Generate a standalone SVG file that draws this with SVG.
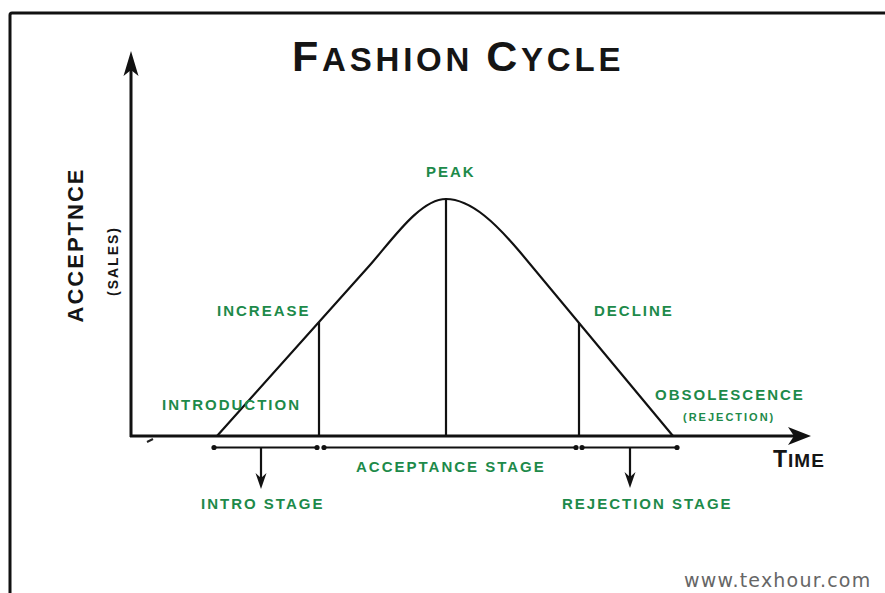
<svg xmlns="http://www.w3.org/2000/svg" width="885" height="593" viewBox="0 0 885 593">
<style>
.lbl{font-family:"Liberation Sans",Arial,sans-serif;font-weight:bold;fill:#1d8a4a;font-size:15px;letter-spacing:2px}
.small{font-size:11px;letter-spacing:2px}
.blk{font-family:"Liberation Sans",Arial,sans-serif;font-weight:bold;fill:#151515}
.ax{stroke:#111;stroke-width:3;fill:none}
.ln{stroke:#111;stroke-width:2.2;fill:none}
.ah{fill:#111}
</style>
<rect x="0" y="0" width="885" height="593" fill="#fff"/>
<rect x="10" y="13" width="900" height="620" rx="2" fill="none" stroke="#111" stroke-width="3"/>

<g id="title">
<text class="blk" x="292" y="71" letter-spacing="3.8"><tspan font-size="43">F</tspan><tspan font-size="33">ASHION </tspan><tspan font-size="43">C</tspan><tspan font-size="33">YCLE</tspan></text>
</g>

<g id="axes">
<line class="ax" x1="131" y1="66" x2="131" y2="437"/>
<path class="ah" d="M131,51 L138.5,76 L131,70 L123.5,76 Z"/>
<line class="ax" x1="130" y1="436" x2="796" y2="436"/>
<path class="ah" d="M811,436 L788,427 L794,436 L788,445 Z"/>
<line stroke="#222" stroke-width="2" x1="147" y1="442" x2="153" y2="439"/>
</g>

<g id="y-label">
<text class="blk" transform="translate(83,245) rotate(-90)" text-anchor="middle" font-size="22" letter-spacing="2">ACCEPTNCE</text>
<text class="blk" transform="translate(118,261) rotate(-90)" text-anchor="middle" font-size="14" letter-spacing="2">(SALES)</text>
</g>

<g id="time-label">
<text class="blk" x="773" y="467" letter-spacing="1"><tspan font-size="23">T</tspan><tspan font-size="19">IME</tspan></text>
</g>

<g id="curve">
<path class="ln" d="M217,436 L370,265 C392,240 420,199 446,199 C472,199 498,226 520,252 L673,436"/>
<line class="ln" x1="319" y1="322" x2="319" y2="436"/>
<line class="ln" x1="446" y1="199" x2="446" y2="436"/>
<line class="ln" x1="579" y1="323" x2="579" y2="436"/>
</g>

<g id="connectors">
<g id="intro-bracket">
<line class="ln" x1="214" y1="447.5" x2="317" y2="447.5"/>
<circle cx="214" cy="447.5" r="2.6" class="ah"/>
<circle cx="317" cy="447.5" r="2.6" class="ah"/>
<line class="ln" x1="261" y1="447.5" x2="261" y2="480"/>
<path class="ah" d="M261,489 L255.5,473 L261,478 L266.5,473 Z"/>
</g>
<g id="acceptance-bracket">
<line class="ln" x1="324" y1="447.5" x2="576" y2="447.5"/>
<circle cx="324" cy="447.5" r="2.6" class="ah"/>
<circle cx="576" cy="447.5" r="2.6" class="ah"/>
</g>
<g id="rejection-bracket">
<line class="ln" x1="582" y1="447.5" x2="677" y2="447.5"/>
<circle cx="582" cy="447.5" r="2.6" class="ah"/>
<circle cx="677" cy="447.5" r="2.6" class="ah"/>
<line class="ln" x1="630" y1="447.5" x2="630" y2="479"/>
<path class="ah" d="M630,488 L624.5,472 L630,477 L635.5,472 Z"/>
</g>
</g>

<g id="peak"><text class="lbl" x="426" y="177">PEAK</text></g>
<g id="increase"><text class="lbl" x="217" y="316">INCREASE</text></g>
<g id="decline"><text class="lbl" x="594" y="316">DECLINE</text></g>
<g id="introduction"><text class="lbl" x="162" y="410">INTRODUCTION</text></g>
<g id="obsolescence">
<text class="lbl" x="655" y="400" letter-spacing="2.4">OBSOLESCENCE</text>
<text class="lbl small" x="683" y="421">(REJECTION)</text>
</g>
<g id="acceptance-stage"><text class="lbl" x="356" y="472">ACCEPTANCE STAGE</text></g>
<g id="intro-stage"><text class="lbl" x="201" y="509">INTRO STAGE</text></g>
<g id="rejection-stage"><text class="lbl" x="562" y="509">REJECTION STAGE</text></g>

<g id="watermark">
<text x="684" y="587" font-family="DejaVu Sans,sans-serif" font-size="19" letter-spacing="1.2" fill="#666">www.texhour.com</text>
</g>
</svg>
